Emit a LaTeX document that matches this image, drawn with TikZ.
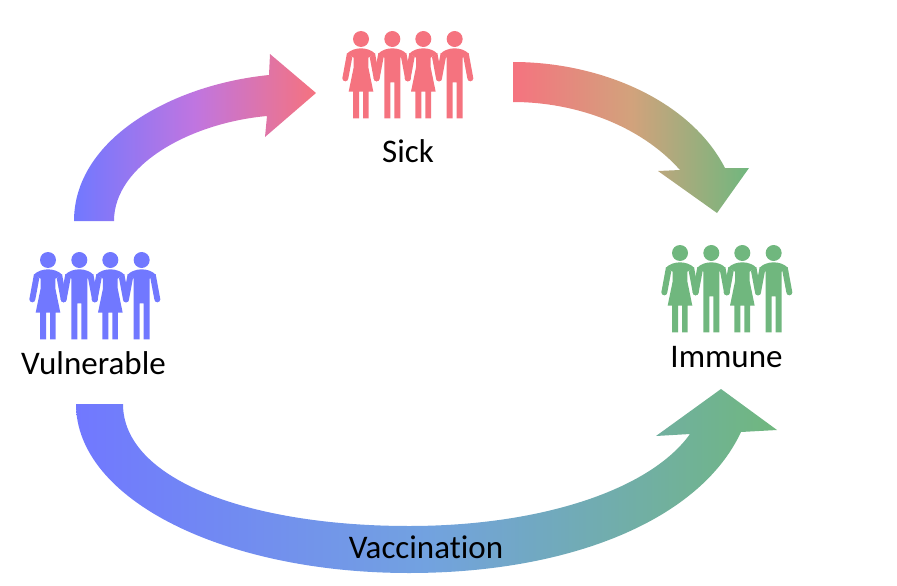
\documentclass[tikz,border=0pt]{standalone}
\usepackage{fontspec}
\setmainfont[Ligatures=NoCommon]{Carlito}
\definecolor{cblue}{HTML}{7178FF}
\definecolor{cred}{HTML}{F5737F}
\definecolor{cgreen}{HTML}{70B77E}
\definecolor{midone}{HTML}{C075E0}
\definecolor{midtwo}{HTML}{D2A27C}
\definecolor{midthree}{HTML}{72A2E0}
\newcommand{\armsfig}[1]{%
  \fill ({#1-42},102) -- ({#1-56},178) arc[start angle=180,end angle=0,radius=9]
     -- ({#1-26},114) -- cycle;
  \fill ({#1+42},102) -- ({#1+56},178) arc[start angle=0,end angle=180,radius=9]
     -- ({#1+26},114) -- cycle;
}
\newcommand{\manfig}[1]{%
  \fill (#1,60) circle (24);
  \fill ({#1-42},104) .. controls ({#1-32},93) and ({#1-15},88) .. (#1,88)
     .. controls ({#1+15},88) and ({#1+32},93) .. ({#1+42},104)
     -- ({#1+24},116) -- ({#1+24},298) -- ({#1+6},298) -- ({#1+6},190) -- ({#1-6},190)
     -- ({#1-6},298) -- ({#1-24},298) -- ({#1-24},116) -- cycle;
  \armsfig{#1}
}
\newcommand{\womanfig}[1]{%
  \fill (#1,60) circle (24);
  \fill ({#1-42},104) .. controls ({#1-32},93) and ({#1-15},88) .. (#1,88)
     .. controls ({#1+15},88) and ({#1+32},93) .. ({#1+42},104)
     -- ({#1+22},116) -- ({#1+22},145) -- ({#1+37},218) -- ({#1+23},218) -- ({#1+23},298)
     -- ({#1+6},298) -- ({#1+6},218) -- ({#1-6},218) -- ({#1-6},298) -- ({#1-24},298)
     -- ({#1-24},218) -- ({#1-37},218) -- ({#1-22},145) -- ({#1-22},116) -- cycle;
  \armsfig{#1}
}
\tikzset{
  pics/people/.style={code={
    \begin{scope}[scale=1/3,fill=#1]
      \womanfig{84}\manfig{178}\womanfig{271}\manfig{365}
    \end{scope}
  }},
  lbl/.style={font=\fontsize{33}{36}\selectfont,text=black,inner sep=0pt,anchor=center}
}
\begin{document}
\begin{tikzpicture}[x=1pt,y=-1pt]
\useasboundingbox (0,0) rectangle (897,586);
\shade[left color=cblue,right color=cred,middle color=midone]
  (74,221) .. controls (74,140) and (170,85) .. (269,75)
  -- (270,54) -- (316,93) -- (265,137) -- (267,116)
  .. controls (190,123) and (114,165) .. (114,221) -- cycle;
\shade[left color=cred,right color=cgreen,middle color=midtwo]
  (513,62) .. controls (600,62) and (690,100) .. (725,168)
  -- (749,168) -- (717,213) -- (658,171) -- (680,170)
  .. controls (640,125) and (575,102) .. (513,102) -- cycle;
\shade[left color=cblue,right color=cgreen,middle color=midthree]
  (76,404) .. controls (76,500) and (225,573) .. (409,573)
  .. controls (570,573) and (700,520) .. (741,432)
  -- (777,430) -- (721,389) -- (656,436) -- (690,434)
  .. controls (650,490) and (540,526) .. (409,526)
  .. controls (250,526) and (123,480) .. (123,404) -- cycle;
\pic (vulnerable) at (20,240) {people=cblue};
\pic (sick) at (333,19) {people=cred};
\pic (immune) at (652,233) {people=cgreen};
\node[lbl] (tvulnerable) at (93.5,363) {Vulnerable};
\node[lbl] (tsick) at (408,151) {Sick};
\node[lbl] (timmune) at (726.5,357) {Immune};
\node[lbl] (tvacc) at (426,547) {Vaccination};
\end{tikzpicture}
\end{document}
